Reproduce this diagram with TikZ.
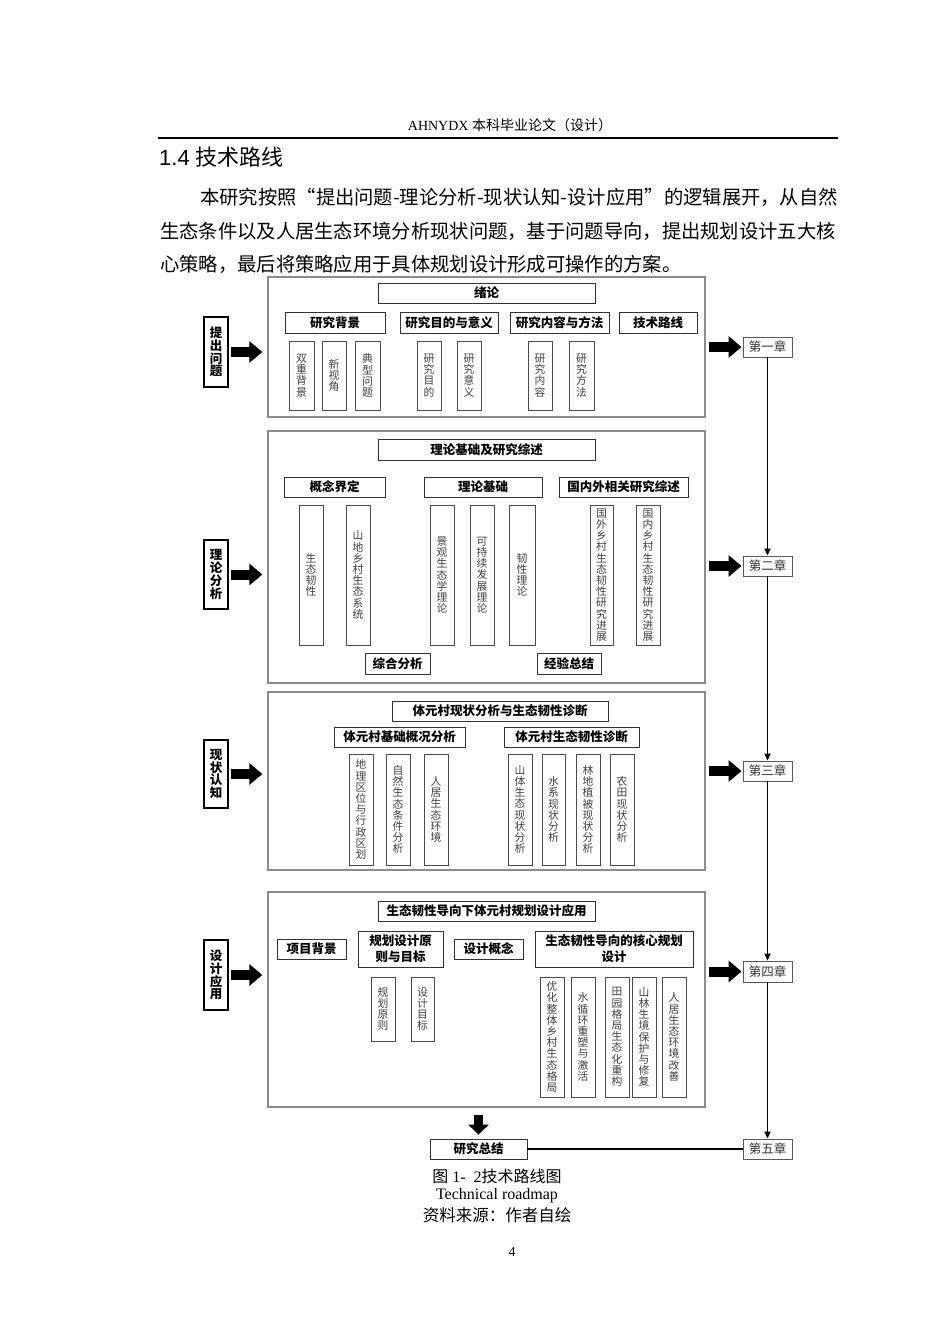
\documentclass[tikz,border=0pt]{standalone}
\usepackage{fontspec}
\setmainfont{Noto Sans CJK SC}
\newfontfamily\tnr{Liberation Serif}
\newfontfamily\ars{Liberation Sans}
\usetikzlibrary{arrows.meta}
\XeTeXlinebreaklocale "zh"
\XeTeXlinebreakskip=0pt plus 4pt
\XeTeXlinebreakpenalty=10000
\newcommand\bx[7]{\node[#2,minimum width={#5pt-#3pt},minimum height={#6pt-#4pt}] (#1) at ({(#3+#5)/2},{(#4+#6)/2}) {#7};}
\begin{document}
\begin{tikzpicture}[x=1pt,y=-1pt,
  outer/.style={draw=black!45, line width=1.3pt, inner sep=0},
  hdr/.style={draw=black!80, line width=0.9pt, inner sep=0, font=\bfseries\fontsize{12.5}{16}\selectfont, align=center},
  vbx/.style={draw=black!70, line width=0.7pt, inner sep=0, font=\fontsize{10.8}{11.2}\selectfont, text=black!75, align=center},
  lab/.style={draw=black, line width=1.4pt, inner sep=0, font=\bfseries\fontsize{12.5}{12.8}\selectfont, align=center},
  chap/.style={draw=black!65, line width=0.9pt, inner sep=0, font=\fontsize{12.5}{14}\selectfont, text=black!80},
  blk/.style={line width=10pt, -{Triangle[length=13pt,width=21pt]}},
  vline/.style={line width=1.8pt, -{Triangle[length=7pt,width=6pt]}}
]
\useasboundingbox (0,0) rectangle (950,1344);
\fill[white] (0,0) rectangle (950,1344);

% page header and text
\node[font=\fontsize{14}{16}\selectfont, inner sep=0] (hd) at (510,125) {{\tnr AHNYDX }本科毕业论文（设计）};
\draw[line width=1.6pt] (158,138) -- (838,138);
\node[anchor=west, inner sep=0, font=\fontsize{22}{26}\selectfont] (sec) at (159,157) {{\ars 1.4 }技术路线};
\node[anchor=west, inner sep=0, text width=638pt, align=justify, font=\fontsize{19.3}{24}\selectfont] (p1) at (200,197) {\parfillskip=0pt\relax 本研究按照“提出问题-理论分析-现状认知-设计应用”的逻辑展开，从自然};
\node[anchor=west, inner sep=0, text width=678pt, align=justify, font=\fontsize{19.3}{24}\selectfont] (p2) at (160,231) {\parfillskip=0pt\relax 生态条件以及人居生态环境分析现状问题，基于问题导向，提出规划设计五大核};
\node[anchor=west, inner sep=0, font=\fontsize{19.3}{24}\selectfont] (p3) at (160,264) {心策略，最后将策略应用于具体规划设计形成可操作的方案。};

% outer boxes
\bx{b1}{outer}{268}{277}{705}{417}{}
\bx{b2}{outer}{268}{431}{705}{683}{}
\bx{b3}{outer}{268}{692}{705}{870}{}
\bx{b4}{outer}{268}{892}{705}{1107}{}

% box 1
\bx{t1}{hdr}{378}{283}{595}{303}{绪论}
\bx{h11}{hdr}{285}{312}{385}{333}{研究背景}
\bx{h12}{hdr}{400}{312}{498}{333}{研究目的与意义}
\bx{h13}{hdr}{510}{312}{609}{333}{研究内容与方法}
\bx{h14}{hdr}{619}{312}{697}{333}{技术路线}
\bx{v11}{vbx}{289}{341}{314}{410}{双\\重\\背\\景}
\bx{v12}{vbx}{322}{341}{346}{410}{新\\视\\角}
\bx{v13}{vbx}{355}{341}{380}{410}{典\\型\\问\\题}
\bx{v14}{vbx}{417}{341}{441}{410}{研\\究\\目\\的}
\bx{v15}{vbx}{457}{341}{481}{410}{研\\究\\意\\义}
\bx{v16}{vbx}{528}{341}{552}{410}{研\\究\\内\\容}
\bx{v17}{vbx}{569}{341}{594}{410}{研\\究\\方\\法}

% box 2
\bx{t2}{hdr}{378}{439}{595}{460}{理论基础及研究综述}
\bx{h21}{hdr}{284}{477}{385}{497}{概念界定}
\bx{h22}{hdr}{424}{477}{542}{497}{理论基础}
\bx{h23}{hdr}{559}{477}{688}{497}{国内外相关研究综述}
\bx{v21}{vbx}{299}{505}{323}{645}{生\\态\\韧\\性}
\bx{v22}{vbx}{346}{505}{370}{645}{山\\地\\乡\\村\\生\\态\\系\\统}
\bx{v23}{vbx}{430}{505}{454}{645}{景\\观\\生\\态\\学\\理\\论}
\bx{v24}{vbx}{470}{505}{494}{645}{可\\持\\续\\发\\展\\理\\论}
\bx{v25}{vbx}{509}{505}{535}{645}{韧\\性\\理\\论}
\bx{v26}{vbx}{590}{505}{613}{645}{国\\外\\乡\\村\\生\\态\\韧\\性\\研\\究\\进\\展}
\bx{v27}{vbx}{636}{505}{660}{645}{国\\内\\乡\\村\\生\\态\\韧\\性\\研\\究\\进\\展}
\bx{s21}{hdr}{365}{653}{430}{674}{综合分析}
\bx{s22}{hdr}{537}{653}{601}{674}{经验总结}

% box 3
\bx{t3}{hdr}{392}{701}{608}{721}{体元村现状分析与生态韧性诊断}
\bx{h31}{hdr}{334}{727}{465}{747}{体元村基础概况分析}
\bx{h32}{hdr}{504}{727}{639}{747}{体元村生态韧性诊断}
\bx{v31}{vbx}{349}{754}{373}{865}{地\\理\\区\\位\\与\\行\\政\\区\\划}
\bx{v32}{vbx}{386}{754}{410}{865}{自\\然\\生\\态\\条\\件\\分\\析}
\bx{v33}{vbx}{424}{754}{448}{865}{人\\居\\生\\态\\环\\境}
\bx{v34}{vbx}{508}{754}{532}{865}{山\\体\\生\\态\\现\\状\\分\\析}
\bx{v35}{vbx}{542}{754}{565}{865}{水\\系\\现\\状\\分\\析}
\bx{v36}{vbx}{576}{754}{600}{865}{林\\地\\植\\被\\现\\状\\分\\析}
\bx{v37}{vbx}{610}{754}{634}{865}{农\\田\\现\\状\\分\\析}

% box 4
\bx{t4}{hdr}{378}{901}{595}{921}{生态韧性导向下体元村规划设计应用}
\bx{h41}{hdr}{277}{939}{346}{959}{项目背景}
\bx{h42}{hdr}{358}{931}{443}{967}{规划设计原\\则与目标}
\bx{h43}{hdr}{454}{939}{523}{959}{设计概念}
\bx{h44}{hdr}{535}{931}{693}{967}{生态韧性导向的核心规划\\设计}
\bx{v41}{vbx}{371}{977}{395}{1041}{规\\划\\原\\则}
\bx{v42}{vbx}{411}{977}{434}{1041}{设\\计\\目\\标}
\bx{v43}{vbx}{540}{977}{564}{1097}{优\\化\\整\\体\\乡\\村\\生\\态\\格\\局}
\bx{v44}{vbx}{571}{977}{595}{1097}{水\\循\\环\\重\\塑\\与\\激\\活}
\bx{v45}{vbx}{605}{977}{629}{1097}{田\\园\\格\\局\\生\\态\\化\\重\\构}
\bx{v46}{vbx}{632}{977}{656}{1097}{山\\林\\生\\境\\保\\护\\与\\修\\复}
\bx{v47}{vbx}{662}{977}{686}{1097}{人\\居\\生\\态\\环\\境\\改\\善}

% left labels
\bx{l1}{lab}{204}{317}{228}{387}{提\\出\\问\\题}
\bx{l2}{lab}{204}{540}{228}{609}{理\\论\\分\\析}
\bx{l3}{lab}{204}{740}{228}{808}{现\\状\\认\\知}
\bx{l4}{lab}{204}{940}{228}{1010}{设\\计\\应\\用}

% chapters
\bx{ch1}{chap}{743}{337}{792}{357}{第一章}
\bx{ch2}{chap}{743}{556}{792}{576}{第二章}
\bx{ch3}{chap}{743}{761}{792}{781}{第三章}
\bx{ch4}{chap}{743}{961}{792}{982}{第四章}
\bx{ch5}{chap}{743}{1139}{792}{1159}{第五章}
\bx{sum}{hdr}{430}{1139}{527}{1159}{研究总结}

% arrows
\foreach \i in {1,2,3,4}{
  \draw[blk, shorten <=2pt, shorten >=5pt] (l\i.east) -- (l\i.east -| b\i.west);
  \draw[blk, shorten <=3pt, shorten >=1pt] (ch\i.west -| b\i.east) -- (ch\i.west);
}
\draw[vline] (ch1.south) -- (ch2.north);
\draw[vline] (ch2.south) -- (ch3.north);
\draw[vline] (ch3.south) -- (ch4.north);
\draw[vline] (ch4.south) -- (ch5.north);
\draw[line width=1.8pt] (sum.east) -- (ch5.west);
\draw[line width=9pt, -{Triangle[length=10pt,width=20pt]}, shorten <=7pt, shorten >=4pt] (b4.south -| sum.north) -- (sum.north);

% caption
\node[font=\fontsize{16}{18}\selectfont, inner sep=0] (cap1) at (497,1176) {图{\tnr\ 1-\ \ 2}技术路线图};
\node[font=\tnr\fontsize{16}{18}\selectfont, inner sep=0] (cap2) at (497,1196) {Technical roadmap};
\node[font=\fontsize{16.5}{18}\selectfont, inner sep=0] (cap3) at (497,1215) {资料来源：作者自绘};
\node[font=\tnr\fontsize{14}{16}\selectfont, inner sep=0] (pg) at (512,1252) {4};
\end{tikzpicture}
\end{document}
